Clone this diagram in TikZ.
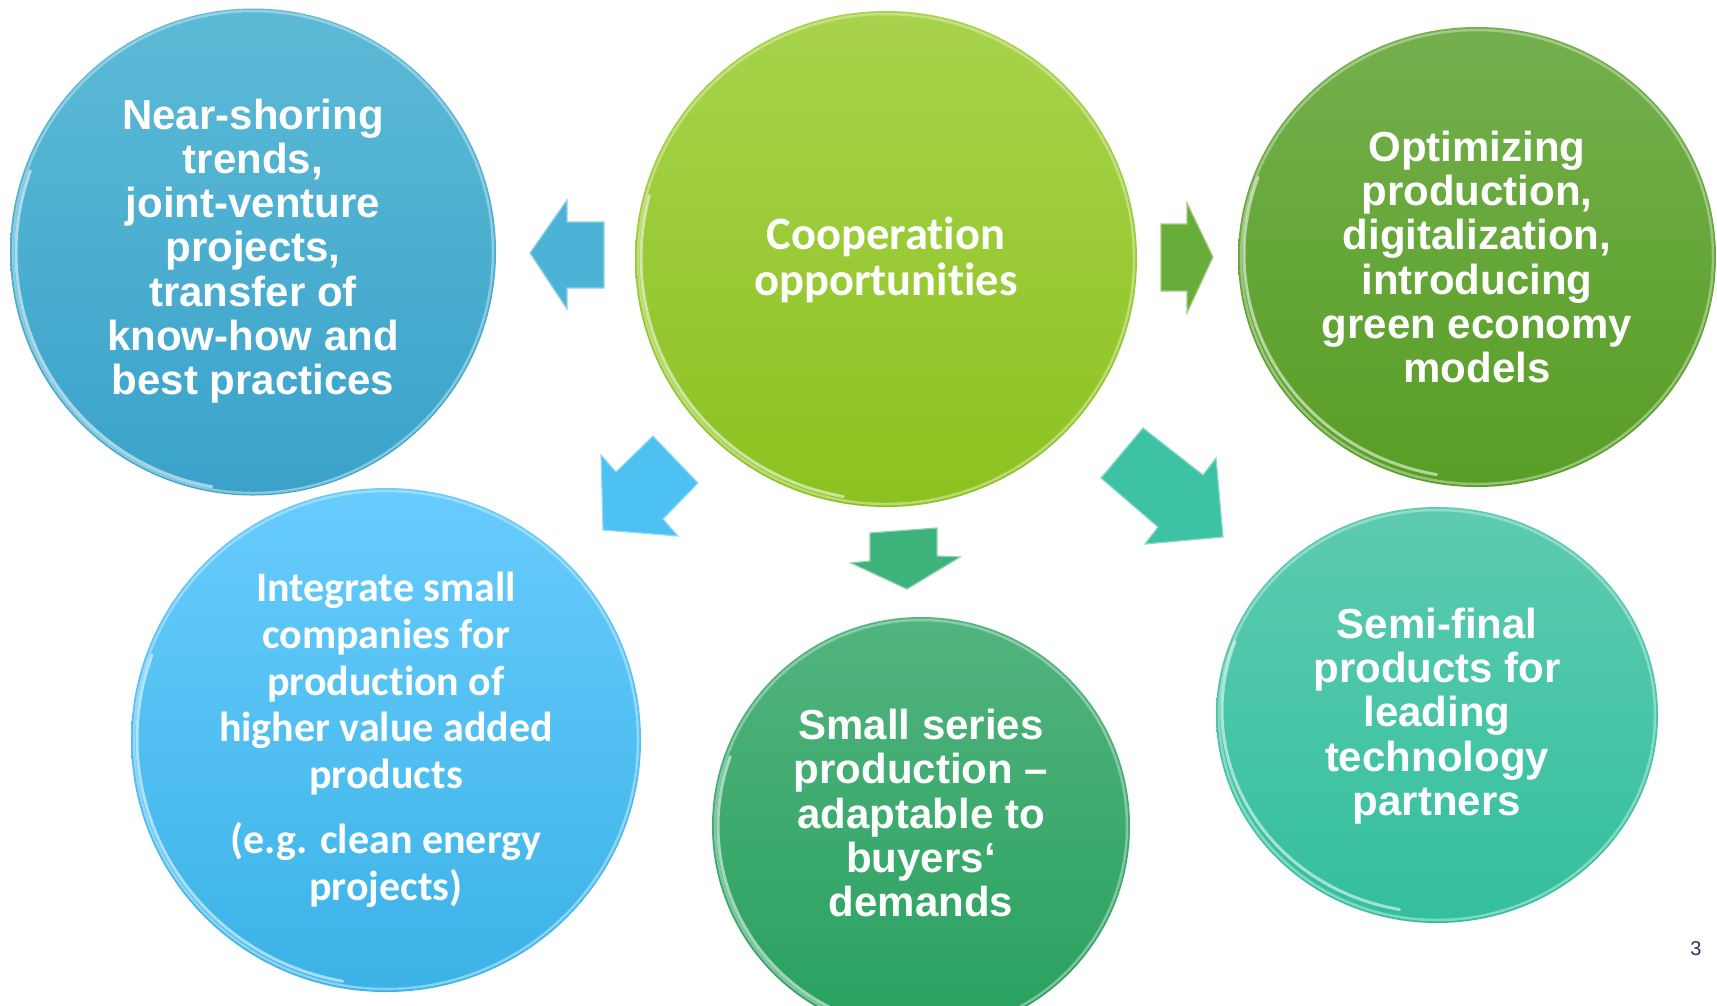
\documentclass[tikz,border=0pt]{standalone}
\usepackage{fontspec}
\usetikzlibrary{shapes.geometric}
\newfontfamily\arialfont{Liberation Sans}
\newfontfamily\calfont{Carlito}[Ligatures={NoCommon,NoDiscretionary}]
\definecolor{tlTop}{HTML}{5DBAD6}
\definecolor{tlBot}{HTML}{3AA2CA}
\definecolor{cTop}{HTML}{A8D34C}
\definecolor{cBot}{HTML}{8BC21F}
\definecolor{trTop}{HTML}{74AF4D}
\definecolor{trBot}{HTML}{589E25}
\definecolor{blTop}{HTML}{68CCFD}
\definecolor{blBot}{HTML}{3BB2E6}
\definecolor{bmTop}{HTML}{52B47E}
\definecolor{bmBot}{HTML}{28A05E}
\definecolor{brTop}{HTML}{5DCBB0}
\definecolor{brBot}{HTML}{33BF9E}
\definecolor{aLeft}{HTML}{4BB4D6}
\definecolor{aRight}{HTML}{68AC3A}
\definecolor{aDL}{HTML}{4DC1F2}
\definecolor{aDown}{HTML}{3DB27A}
\definecolor{aDR}{HTML}{3DC2A4}
\definecolor{pagenum}{HTML}{2B3467}
\begin{document}
\begin{tikzpicture}[x=1pt,y=-1pt,
  bubble/.style={ellipse, inner sep=0pt, draw=none},
  arialtxt/.style={text=white, align=center, inner sep=0pt, font=\arialfont\bfseries\fontsize{42}{44.2}\selectfont},
  caltxt/.style={text=white, align=center, inner sep=0pt, font=\calfont\bfseries\fontsize{42}{46.6}\selectfont},
  rim/.style={line width=2.5pt, draw opacity=0.6},
  glow/.style={line width=3pt, draw=white, draw opacity=0.55, line cap=round},
  blockarrow/.style={line width=1.2pt, line join=miter}]
\useasboundingbox (0,0) rectangle (1717,1005);
\fill[white] (0,0) rectangle (1717,1005);

% circles
\node[bubble, minimum width=486pt, minimum height=487pt, top color=tlTop, bottom color=tlBot] (tl) at (253,252) {};
\draw[rim, draw=tlTop!45!white] (tl.center) ellipse (240 and 241);
\draw[glow] (tl.center) ++(200:237) arc (200:100:237 and 238);

\node[bubble, minimum width=502pt, minimum height=496pt, top color=cTop, bottom color=cBot] (c) at (886,259) {};
\draw[rim, draw=cTop!45!white] (c.center) ellipse (248 and 245);
\draw[glow] (c.center) ++(195:245) arc (195:100:245 and 242);

\node[bubble, minimum width=478pt, minimum height=460pt, top color=trTop, bottom color=trBot] (tr) at (1477,257) {};
\draw[rim, draw=trTop!45!white] (tr.center) ellipse (236 and 227);
\draw[glow] (tr.center) ++(200:233) arc (200:100:233 and 224);

\node[bubble, minimum width=510pt, minimum height=504pt, top color=blTop, bottom color=blBot] (bl) at (386,740) {};
\draw[rim, draw=blTop!45!white] (bl.center) ellipse (252 and 249);
\draw[glow] (bl.center) ++(200:249) arc (200:100:249 and 246);

\node[bubble, minimum width=418pt, minimum height=418pt, top color=bmTop, bottom color=bmBot] (bm) at (921,826) {};
\draw[rim, draw=bmTop!45!white] (bm.center) ellipse (206 and 206);
\draw[glow] (bm.center) ++(200:203) arc (200:100:203 and 203);

\node[bubble, minimum width=442pt, minimum height=416pt, top color=brTop, bottom color=brBot] (br) at (1437,715) {};
\draw[rim, draw=brTop!45!white] (br.center) ellipse (218 and 205);
\draw[glow] (br.center) ++(200:215) arc (200:100:215 and 202);

% texts
\node[arialtxt] (tltext) at (253,251) {Near-shoring\\trends,\\joint-venture\\projects,\\transfer of\\know-how and\\best practices};
\node[caltxt, font=\calfont\bfseries\fontsize{46.5}{45.5}\selectfont] (ctext) at (886,260) {Cooperation\\opportunities};
\node[arialtxt] (trtext) at (1477,257) {Optimizing\\production,\\digitalization,\\introducing\\green economy\\models};
\node[caltxt] (bltext) at (386,740) {Integrate small\\companies for\\production of\\higher value added\\products\\[19pt](e.g. clean energy\\projects)};
\node[arialtxt] (bmtext) at (921,813) {Small series\\production –\\adaptable to\\buyers‘\\demands};
\node[arialtxt] (brtext) at (1437,716) {Semi-final\\products for\\leading\\technology\\partners};

% block arrows
\filldraw[blockarrow, fill=aLeft, draw=aLeft!60!white] (530,253) -- (567,200) -- (567,222) -- (604,222) -- (604,288) -- (567,288) -- (567,309) -- cycle;
\filldraw[blockarrow, fill=aRight, draw=aRight!60!white] (1161,224) -- (1187,224) -- (1187,203) -- (1213,257) -- (1187,313) -- (1187,291) -- (1161,291) -- cycle;
\filldraw[blockarrow, fill=aDL, draw=aDL!60!white] (603,530) -- (601,455) -- (616,472) -- (653,436) -- (698,483) -- (663,519) -- (678,536) -- cycle;
\filldraw[blockarrow, fill=aDown, draw=aDown!60!white] (870,533) -- (937,528) -- (937,556) -- (960,557) -- (907,589) -- (851,563) -- (870,561) -- cycle;
\filldraw[blockarrow, fill=aDR, draw=aDR!60!white] (1101,478) -- (1143,428) -- (1203,475) -- (1216,458) -- (1223,537) -- (1145,544) -- (1158,527) -- cycle;

% page number
\node[text=pagenum, font=\arialfont\fontsize{20}{24}\selectfont] (pnum) at (1696,949) {3};
\end{tikzpicture}
\end{document}
